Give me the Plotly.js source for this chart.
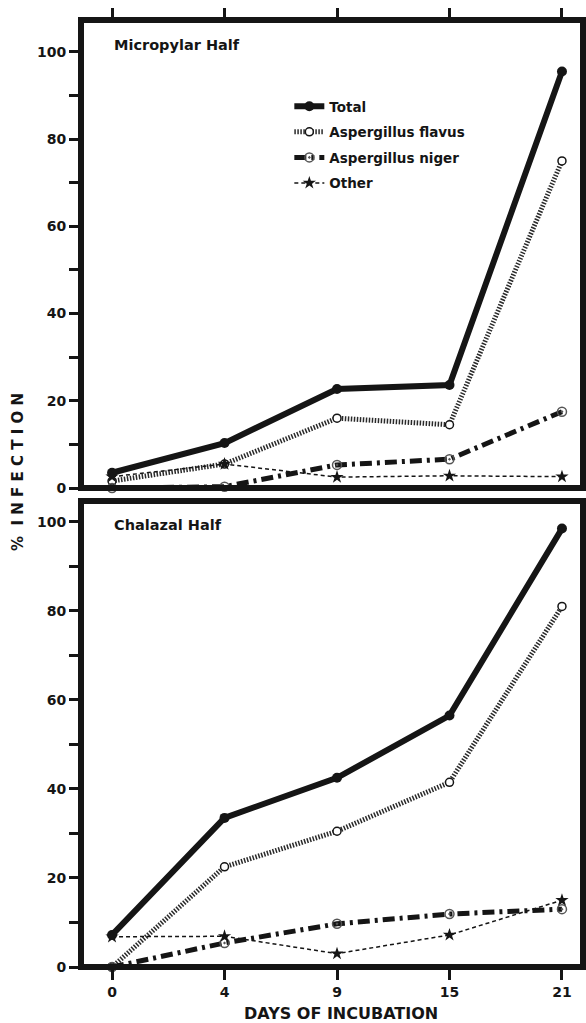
<!DOCTYPE html>
<html>
<head>
<meta charset="utf-8">
<script src="https://cdn.plot.ly/plotly-3.0.1.min.js"></script>
<style>html,body{margin:0;padding:0;background:#fff;}#chart{width:586px;height:1023px;}</style>
</head>
<body>
<div id="chart"></div>
<script>
// ---- data ----
const days = ['0', '4', '9', '15', '21'];
const seriesNames = ['Total', 'Aspergillus flavus', 'Aspergillus niger', 'Other'];
const microTotal  = [3.5, 10.3, 22.7, 23.6, 95.5];
const microFlavus = [1.6, 5.5, 16.0, 14.5, 75.0];
const microNiger  = [0.0, 0.3, 5.3, 6.6, 17.5];
const microOther  = [2.6, 5.5, 2.5, 2.8, 2.6];
const chalTotal   = [7.2, 33.5, 42.5, 56.5, 98.5];
const chalFlavus  = [0.0, 22.5, 30.5, 41.5, 81.0];
const chalNiger   = [0.0, 5.4, 9.7, 11.9, 13.0];
const chalOther   = [6.8, 6.9, 3.0, 7.2, 15.0];
const yTickVals = [0, 10, 20, 30, 40, 50, 60, 70, 80, 90, 100];
const yTickText = ['0', '', '20', '', '40', '', '60', '', '80', '', '100'];
const panelLabels = ['Micropylar Half', 'Chalazal Half'];
const xTitle = 'DAYS OF INCUBATION';
const yTitle = '%\u00a0\u00a0I\u00a0N\u00a0F\u00a0E\u00a0C\u00a0T\u00a0I\u00a0O\u00a0N';

// ---- styles ----
const ink = '#151515';
const styles = [
  {line: {color: ink, width: 6}, marker: {symbol: 'circle', size: 10, color: ink}},
  {line: {color: '#2a2a2a', width: 5, dash: '1.5px,1.5px'}, marker: {symbol: 'circle', size: 8, color: '#fff', line: {color: ink, width: 1.5}}},
  {line: {color: ink, width: 5, dash: '12px,5px,3px,5px'}, marker: {symbol: 'circle-open-dot', size: 9, color: '#555', line: {color: '#555', width: 1.5}}},
  {line: {color: ink, width: 1.5, dash: '4px,3px'}, marker: {symbol: 'star', size: 10, color: ink}}
];

const microSets = [microTotal, microFlavus, microNiger, microOther];
const chalSets = [chalTotal, chalFlavus, chalNiger, chalOther];
const traces = [];
microSets.forEach((vals, i) => {
  traces.push({x: days, y: vals, xaxis: 'x', yaxis: 'y', type: 'scatter', mode: 'lines+markers',
    name: seriesNames[i], legendgroup: 'g' + i, showlegend: true, cliponaxis: false,
    line: styles[i].line, marker: styles[i].marker});
});
chalSets.forEach((vals, i) => {
  traces.push({x: days, y: vals, xaxis: 'x2', yaxis: 'y2', type: 'scatter', mode: 'lines+markers',
    name: seriesNames[i], legendgroup: 'g' + i, showlegend: false, cliponaxis: false,
    line: styles[i].line, marker: styles[i].marker});
});

const fontFam = 'DejaVu Sans, sans-serif';
const tickFont = {family: fontFam, size: 14, color: ink, weight: 'bold'};
const topDom = [0.5058, 1];
const botDom = [0, 0.4921];
const xr = [-0.276, 4.187];

const yaxisBase = {
  tickmode: 'array', tickvals: yTickVals, ticktext: yTickText,
  ticks: 'outside', ticklen: 11, tickwidth: 3, tickcolor: ink,
  tickfont: tickFont, showgrid: false, zeroline: false, showline: false, fixedrange: true
};

const layout = {
  width: 586, height: 1023,
  margin: {l: 81, r: 3, t: 20, b: 56},
  paper_bgcolor: '#fff', plot_bgcolor: '#fff',
  showlegend: true,
  legend: {x: 0.415, y: 0.925, xanchor: 'left', yanchor: 'top',
    font: {family: fontFam, size: 13.5, color: ink, weight: 'bold'},
    bgcolor: 'rgba(0,0,0,0)', traceorder: 'grouped', tracegroupgap: 5},
  xaxis: {type: 'category', anchor: 'y', side: 'top', range: xr, showticklabels: false,
    ticks: 'outside', ticklen: 11, tickwidth: 3, tickcolor: ink,
    showgrid: false, zeroline: false, showline: false},
  yaxis: Object.assign({}, yaxisBase, {domain: topDom, anchor: 'x', range: [0, 107.3]}),
  xaxis2: {type: 'category', anchor: 'y2', side: 'bottom', range: xr,
    ticks: 'outside', ticklen: 12, tickwidth: 3, tickcolor: ink, tickfont: tickFont,
    showgrid: false, zeroline: false, showline: false},
  yaxis2: Object.assign({}, yaxisBase, {domain: botDom, anchor: 'x2', range: [0, 104.7]}),
  shapes: [
    {type: 'rect', xref: 'paper', yref: 'paper', x0: 0, x1: 1, y0: topDom[0], y1: topDom[1],
      line: {color: ink, width: 6}, fillcolor: 'rgba(0,0,0,0)', layer: 'above'},
    {type: 'rect', xref: 'paper', yref: 'paper', x0: 0, x1: 1, y0: botDom[0], y1: botDom[1],
      line: {color: ink, width: 6}, fillcolor: 'rgba(0,0,0,0)', layer: 'above'}
  ],
  annotations: [
    {text: panelLabels[0], xref: 'paper', yref: 'paper', x: 0.062, y: 0.9736, xanchor: 'left', yanchor: 'middle',
      showarrow: false, font: {family: fontFam, size: 14.5, color: ink, weight: 'bold'}},
    {text: panelLabels[1], xref: 'paper', yref: 'paper', x: 0.062, y: 0.4667, xanchor: 'left', yanchor: 'middle',
      showarrow: false, font: {family: fontFam, size: 14.5, color: ink, weight: 'bold'}},
    {text: yTitle, xref: 'paper', yref: 'paper', x: -0.1255, y: 0.5227, xanchor: 'center', yanchor: 'middle',
      textangle: -90, showarrow: false, font: {family: fontFam, size: 15, color: ink, weight: 'bold'}},
    {text: xTitle, xref: 'paper', yref: 'paper', x: 0.518, y: -0.0496, xanchor: 'center', yanchor: 'middle',
      showarrow: false, font: {family: fontFam, size: 16, color: ink, weight: 'bold'}}
  ]
};

Plotly.newPlot('chart', traces, layout, {staticPlot: true, displayModeBar: false});
</script>
</body>
</html>
